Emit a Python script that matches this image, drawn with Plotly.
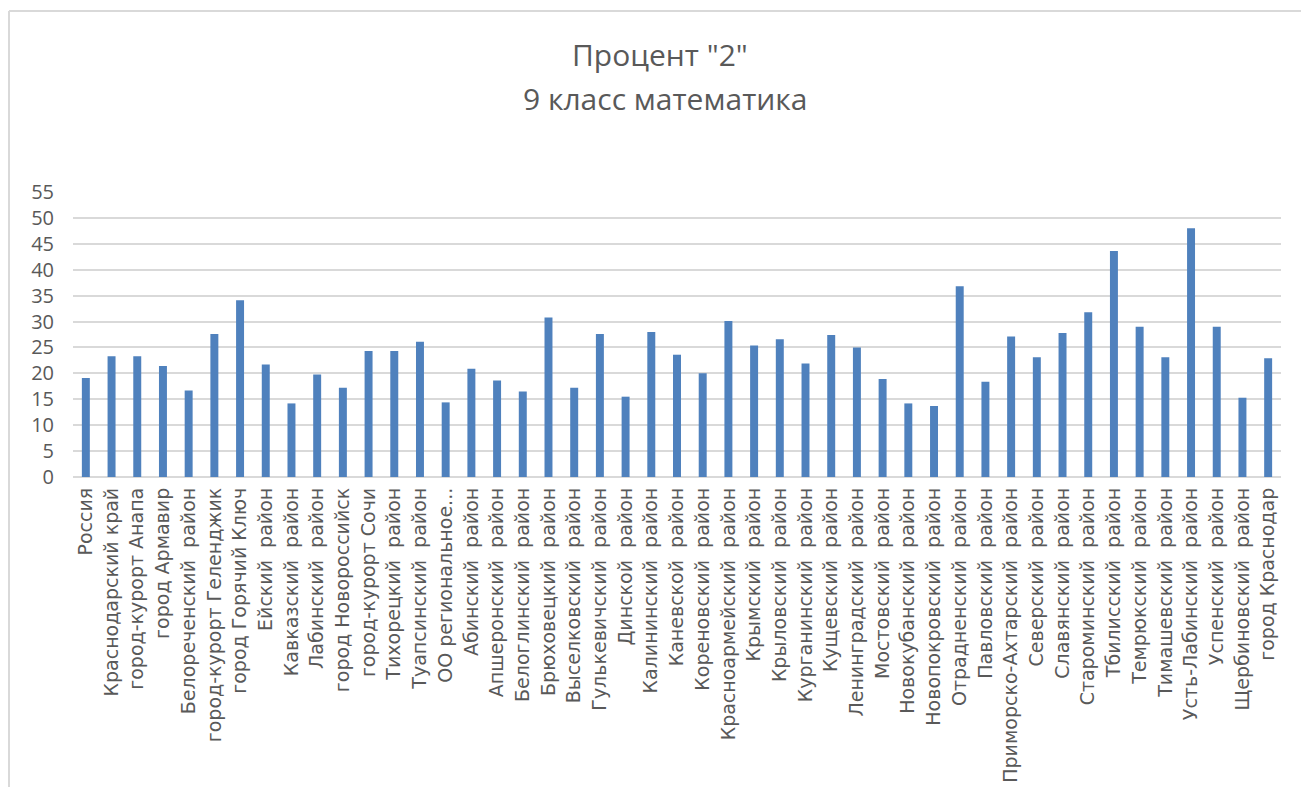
import plotly.graph_objects as go

categories = [
    "Россия", "Краснодарский край", "город-курорт Анапа", "город Армавир",
    "Белореченский\u00a0 район", "город-курорт Геленджик", "город Горячий Ключ",
    "Ейский\u00a0 район", "Кавказский\u00a0 район", "Лабинский\u00a0 район",
    "город Новороссийск", "город-курорт Сочи", "Тихорецкий\u00a0 район",
    "Туапсинский\u00a0 район", "ОО региональное...", "Абинский\u00a0 район",
    "Апшеронский\u00a0 район", "Белоглинский\u00a0 район", "Брюховецкий\u00a0 район",
    "Выселковский\u00a0 район", "Гулькевичский\u00a0 район", "Динской\u00a0 район",
    "Калининский\u00a0 район", "Каневской\u00a0 район", "Кореновский\u00a0 район",
    "Красноармейский\u00a0 район", "Крымский\u00a0 район", "Крыловский\u00a0 район",
    "Курганинский\u00a0 район", "Кущевский\u00a0 район", "Ленинградский\u00a0 район",
    "Мостовский\u00a0 район", "Новокубанский\u00a0 район", "Новопокровский\u00a0 район",
    "Отрадненский\u00a0 район", "Павловский\u00a0 район", "Приморско-Ахтарский\u00a0 район",
    "Северский\u00a0 район", "Славянский\u00a0 район", "Староминский\u00a0 район",
    "Тбилисский\u00a0 район", "Темрюкский\u00a0 район", "Тимашевский\u00a0 район",
    "Усть-Лабинский\u00a0 район", "Успенский\u00a0 район", "Щербиновский\u00a0 район",
    "город Краснодар",
]

values = [
    19.1, 23.3, 23.3, 21.4, 16.7, 27.6, 34.1, 21.7, 14.2, 19.8,
    17.2, 24.3, 24.3, 26.1, 14.4, 20.9, 18.6, 16.5, 30.8, 17.2,
    27.6, 15.5, 28.0, 23.6, 20.0, 30.1, 25.4, 26.6, 21.9, 27.4,
    25.0, 18.9, 14.2, 13.7, 36.8, 18.4, 27.1, 23.1, 27.8, 31.8,
    43.6, 29.0, 23.1, 48.0, 29.0, 15.3, 22.9,
]

y_ticks = list(range(0, 60, 5))
title_line1 = 'Процент "2"'
title_line2 = "9 класс математика"

W, H = 1301, 787
ml, mr, mt, mb = 73, 20, 192, 310
pw, ph = W - ml - mr, H - mt - mb

fig = go.Figure()
fig.add_trace(go.Bar(
    x=categories, y=values,
    marker=dict(color="#4f81bd", line=dict(width=0)),
))

def px_x(x):
    return (x - ml) / pw

def px_y(y):
    return (H - mb - y) / ph

grey = "#595959"
fig.update_layout(
    width=W, height=H,
    margin=dict(l=ml, r=mr, t=mt, b=mb, autoexpand=False),
    paper_bgcolor="white", plot_bgcolor="white",
    bargap=0.69,
    showlegend=False,
    font=dict(family="DejaVu Sans, sans-serif", color=grey),
    xaxis=dict(
        tickangle=-90, tickfont=dict(size=19, family="DejaVu Sans, sans-serif", color=grey),
        showgrid=False, showline=False, ticks="", ticklen=0,
        automargin=False, ticklabelstandoff=6,
    ),
    yaxis=dict(
        range=[0, 55], tickvals=y_ticks,
        tickfont=dict(size=20, family="Open Sans, sans-serif", color=grey),
        showgrid=True, gridcolor="#d9d9d9", gridwidth=1.5,
        zeroline=True, zerolinecolor="#d9d9d9", zerolinewidth=1.5,
        showline=False, ticks="", automargin=False, ticklabelstandoff=18,
    ),
    annotations=[
        dict(text=title_line1, xref="paper", yref="paper",
             x=px_x(660), y=px_y(54), xanchor="center", yanchor="middle",
             showarrow=False, font=dict(size=30, family="Open Sans, sans-serif", color=grey)),
        dict(text=title_line2, xref="paper", yref="paper",
             x=px_x(665), y=px_y(98), xanchor="center", yanchor="middle",
             showarrow=False, font=dict(size=30, family="Open Sans, sans-serif", color=grey)),
    ],
    shapes=[
        dict(type="line", xref="paper", yref="paper",
             x0=px_x(9), x1=px_x(W), y0=px_y(11), y1=px_y(11),
             line=dict(color="#d9d9d9", width=2)),
        dict(type="line", xref="paper", yref="paper",
             x0=px_x(9), x1=px_x(9), y0=px_y(11), y1=px_y(H),
             line=dict(color="#d9d9d9", width=2)),
    ],
)

fig.write_html(
    "out.html",
    config={"displayModeBar": False},
    post_script="document.body.style.margin='0';document.body.style.overflow='hidden';",
)
